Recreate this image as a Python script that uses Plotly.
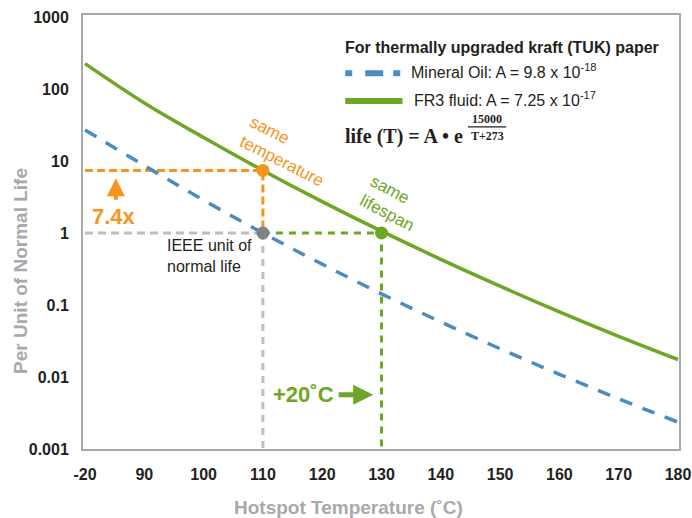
import plotly.graph_objects as go

# hotspot temperature (deg C) and per-unit life
temps = [80, 90, 100, 110, 120, 130, 140, 150, 160, 170, 180]
mineral_oil = [27, 8.65, 2.86, 1.0, 0.369, 0.143, 0.0582, 0.0247, 0.0109, 0.00497, 0.00236]
fr3_fluid = [225, 64.0, 21.2, 7.4, 2.73, 1.06, 0.431, 0.183, 0.0804, 0.0368, 0.0175]

tick_vals = [80, 90, 100, 110, 120, 130, 140, 150, 160, 170, 180]
tick_text = ["-20", "90", "100", "110", "120", "130", "140", "150", "160", "170", "180"]
y_ticks = [0.001, 0.01, 0.1, 1, 10, 100, 1000]
y_text = ["0.001", "0.01", "0.1", "1", "10", "100", "1000"]

# reference points
same_temp = (110, 7.4)
ieee_unit = (110, 1)
same_life = (130, 1)
y_floor = 0.001
x_start = 80

BLUE = "#4b8bbe"
GREEN = "#6ea625"
ORANGE = "#f7941d"
LGRAY = "#bcbec0"
DGRAY = "#808285"
AXIS = "#a7a9ac"
TXT = "#231f20"
FONT = "Liberation Sans, Arial, sans-serif"
SERIF = "Liberation Serif, Times New Roman, serif"

fig = go.Figure()

# dashed guide lines
fig.add_trace(go.Scatter(x=[x_start, same_temp[0], same_temp[0]], y=[same_temp[1], same_temp[1], ieee_unit[1]],
                         mode="lines", line=dict(color=ORANGE, width=3, dash="8px,4px")))
fig.add_trace(go.Scatter(x=[x_start, ieee_unit[0]], y=[ieee_unit[1], ieee_unit[1]],
                         mode="lines", line=dict(color=LGRAY, width=3, dash="8px,5px")))
fig.add_trace(go.Scatter(x=[ieee_unit[0], ieee_unit[0]], y=[ieee_unit[1], y_floor],
                         mode="lines", line=dict(color=LGRAY, width=3, dash="7px,6px")))
fig.add_trace(go.Scatter(x=[ieee_unit[0], same_life[0], same_life[0]], y=[ieee_unit[1], same_life[1], y_floor],
                         mode="lines", line=dict(color=GREEN, width=3, dash="7px,6px")))

# curves
fig.add_trace(go.Scatter(x=temps, y=mineral_oil, mode="lines", line_shape="spline",
                         line=dict(color=BLUE, width=3.5, dash="13px,11px")))
fig.add_trace(go.Scatter(x=temps, y=fr3_fluid, mode="lines", line_shape="spline",
                         line=dict(color=GREEN, width=3.5)))

# markers
fig.add_trace(go.Scatter(x=[same_temp[0], ieee_unit[0], same_life[0]],
                         y=[same_temp[1], ieee_unit[1], same_life[1]],
                         mode="markers", marker=dict(size=13, color=[ORANGE, DGRAY, GREEN])))

ann = [
    dict(x=114.1, y=1.13, text="same<br>temperature", textangle=27, align="left",
         font=dict(size=17, color=ORANGE)),
    dict(x=131.9, y=0.413, text="same<br>lifespan", textangle=28, align="left",
         font=dict(size=17, color=GREEN)),
    dict(x=84.9, y=0.231, text="<b>7.4x</b>", font=dict(size=22, color=ORANGE)),
    dict(x=85.2, y=0.762, text="", showarrow=True, ax=0, ay=23, arrowhead=2,
         arrowsize=0.9, arrowwidth=4, arrowcolor=ORANGE),
    dict(x=93.5, y=-0.315, text="IEEE unit of<br>normal life", xanchor="left", align="left",
         font=dict(size=16, color=TXT)),
    dict(x=116.8, y=-2.245, text="<b>+20˚C</b>", font=dict(size=22, color=GREEN)),
    dict(x=128.6, y=-2.245, text="", showarrow=True, ax=-36, ay=0, arrowhead=2,
         arrowsize=0.8, arrowwidth=5, arrowcolor=GREEN),
    # formula
    dict(x=123.5, y=1.336, text="<b>life (T) = A • e</b>", xanchor="left",
         font=dict(size=20, color=TXT, family=SERIF)),
    dict(x=147.8, y=1.587, text="<b>15000</b>", font=dict(size=12, color=TXT, family=SERIF)),
    dict(x=147.8, y=1.35, text="<b>T+273</b>", font=dict(size=12, color=TXT, family=SERIF)),
    # legend text
    dict(x=0.436, y=0.925, xref="paper", yref="paper", xanchor="left", yanchor="middle",
         text="<b>For thermally upgraded kraft (TUK) paper</b>", font=dict(size=16, color=TXT)),
    dict(x=0.547, y=0.866, xref="paper", yref="paper", xanchor="left", yanchor="bottom", yshift=-10,
         text="Mineral Oil: A = 9.8 x 10<sup>-18</sup>", font=dict(size=16, color=TXT)),
    dict(x=0.552, y=0.802, xref="paper", yref="paper", xanchor="left", yanchor="bottom", yshift=-10,
         text="FR3 fluid: A = 7.25 x 10<sup>-17</sup>", font=dict(size=16, color=TXT)),
    # axis titles
    dict(x=-0.106, y=0.41, xref="paper", yref="paper", xanchor="center", yanchor="middle",
         text="<b>Per Unit of Normal Life</b>", textangle=-90, font=dict(size=19, color=AXIS)),
    dict(x=0.446, y=-0.134, xref="paper", yref="paper", xanchor="center", yanchor="middle",
         text="<b>Hotspot Temperature (˚C)</b>", font=dict(size=19, color=AXIS)),
]
for a in ann:
    a.setdefault("showarrow", False)
    fig.add_annotation(**a)

# fraction bar and legend samples
fig.add_shape(type="line", xref="paper", yref="paper", x0=0.646, x1=0.710, y0=0.742, y1=0.742,
              line=dict(color=TXT, width=1.2))
fig.add_shape(type="line", xref="paper", yref="paper", x0=0.440, x1=0.536, y0=0.866, y1=0.866,
              line=dict(color=BLUE, width=6, dash="7px,13px,18px,10px,7px,100px"))
fig.add_shape(type="line", xref="paper", yref="paper", x0=0.440, x1=0.536, y0=0.802, y1=0.802,
              line=dict(color=GREEN, width=6))

fig.update_xaxes(range=[79.66, 180.17], tickvals=tick_vals, ticktext=tick_text,
                 showgrid=False, zeroline=False, showline=True, linecolor=AXIS, linewidth=2,
                 mirror=True, ticks="", ticklabelstandoff=10, automargin=False,
                 tickfont=dict(size=16, color=TXT, family=FONT, weight="bold"))
fig.update_yaxes(type="log", range=[-3, 3.028], tickvals=y_ticks, ticktext=y_text,
                 showgrid=False, zeroline=False, showline=True, linecolor=AXIS, linewidth=2,
                 mirror=True, ticks="", ticklabelstandoff=9, automargin=False,
                 tickfont=dict(size=16, color=TXT, family=FONT, weight="bold"))

fig.update_layout(
    width=692, height=518,
    margin=dict(l=83, r=13, t=15, b=69),
    plot_bgcolor="white", paper_bgcolor="white",
    font=dict(family=FONT, color=TXT),
    showlegend=False,
)

fig.write_html("out.html", config={"displayModeBar": False},
               post_script="document.body.style.margin='0';")
